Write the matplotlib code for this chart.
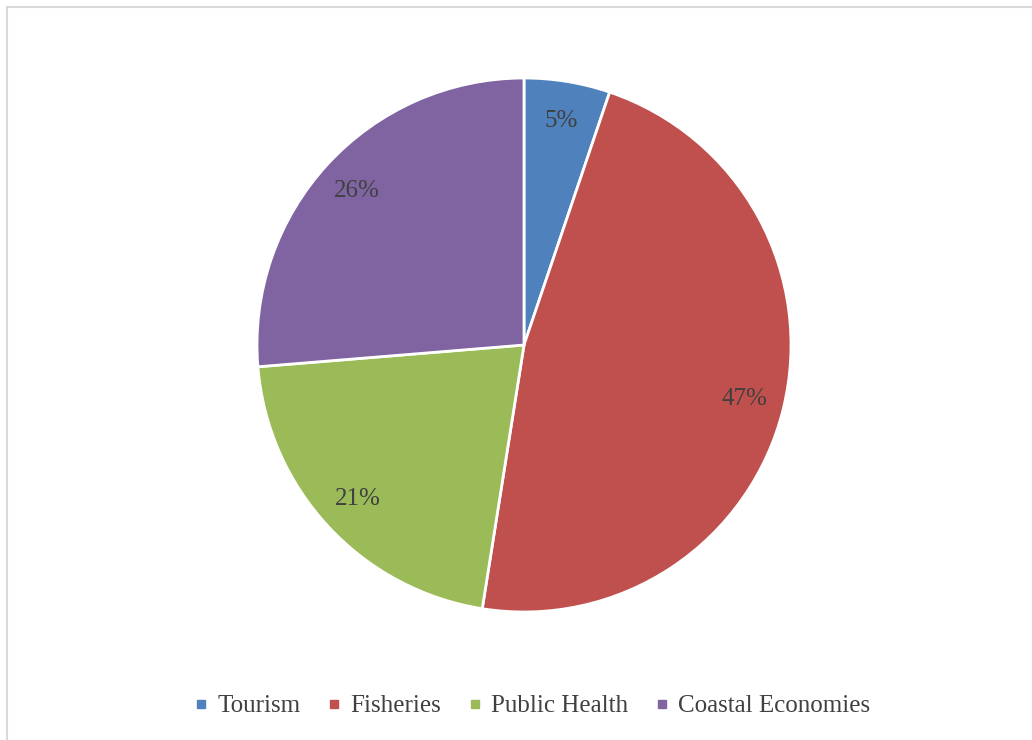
import matplotlib.pyplot as plt
from matplotlib.patches import Rectangle
from matplotlib.lines import Line2D

# sector shares
labels = ['Tourism', 'Fisheries', 'Public Health', 'Coastal Economies']
shares = [5.2, 47.3, 21.2, 26.3]
colors = ['#4F81BD', '#C0504D', '#9BBB59', '#8064A2']

plt.rcParams['font.family'] = ['Liberation Serif', 'DejaVu Serif']

fig = plt.figure(figsize=(10.32, 7.4), dpi=100)

# light grey frame round the chart area
fig.patches.append(Rectangle((6.5 / 1032, -0.05), 1.2, 1.05 - 6.5 / 740,
                             transform=fig.transFigure, fill=False,
                             edgecolor='#D9D9D9', linewidth=1.5))

R = 267
cx, cy = 524, 345
ax = fig.add_axes([(cx - R) / 1032, (740 - cy - R) / 740, 2 * R / 1032, 2 * R / 740])
wedges, texts, autotexts = ax.pie(shares, colors=colors, startangle=90, counterclock=False,
                                  autopct=lambda p: '%d%%' % round(p), pctdistance=0.85,
                                  wedgeprops=dict(edgecolor='white', linewidth=2))
for t in autotexts:
    t.set_color('#404040')
    t.set_fontsize(18)
ax.set_aspect('equal')
ax.set_xlim(-1, 1)
ax.set_ylim(-1, 1)

handles = [Line2D([], [], marker='s', linestyle='none', markersize=6,
                  markerfacecolor=c, markeredgecolor=c) for c in colors]
fig.legend(handles, labels, loc='center', bbox_to_anchor=(530 / 1032, 1 - 706 / 740),
           ncol=4, frameon=False, fontsize=18, labelcolor='#404040',
           handletextpad=0.2, columnspacing=0.9, handlelength=0.9)

fig.savefig('out.png', dpi=100)
